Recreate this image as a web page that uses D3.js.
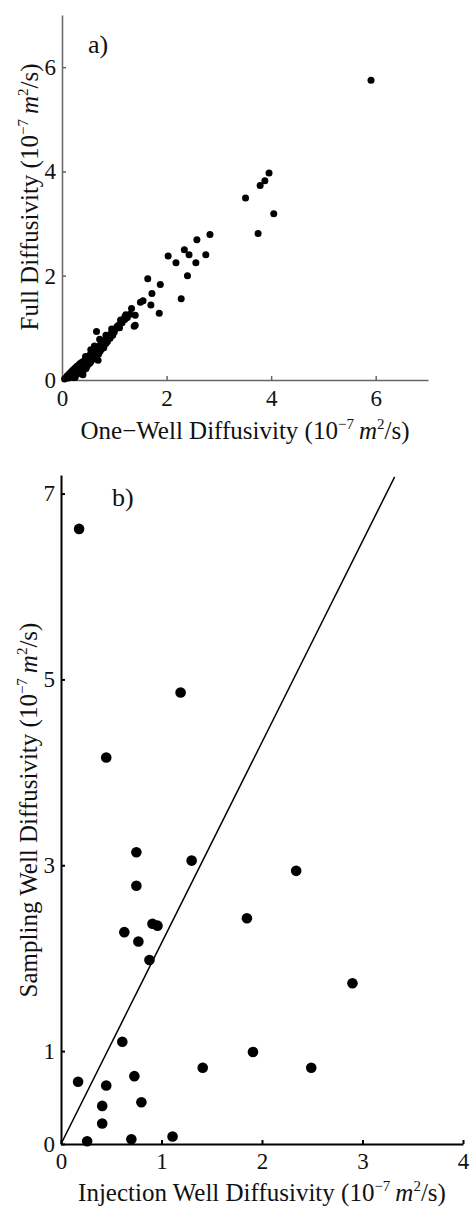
<!DOCTYPE html>
<html>
<head>
<meta charset="utf-8">
<script src="https://cdn.jsdelivr.net/npm/d3@7"></script>
<style>
  body { margin: 0; background: #fff; }
  text { font-family: "Liberation Serif", "Times New Roman", serif; fill: #111; }
</style>
</head>
<body>
<div id="chart"></div>
<script>
// panel a) one-well vs full diffusivity
let oneWell = [0.05,0.08,0.10,0.12,0.14,0.15,0.17,0.18,0.20,0.21,0.22,0.24,0.25,0.27,0.28,0.30,0.31,0.33,0.34,0.36,
  0.38,0.40,0.41,0.43,0.45,0.47,0.48,0.50,0.52,0.54,0.55,0.57,0.58,0.60,0.62,0.69,0.65,0.67,0.69,0.70,
  0.72,0.74,0.76,0.78,0.80,0.82,0.85,0.87,0.90,0.93,0.96,0.99,1.02,1.05,1.08,1.15,1.20,1.25,1.30,0.66,
  1.33,1.40,1.20,1.40,1.38,1.50,1.55,1.70,1.86,1.64,1.88,1.72,2.28,2.40,2.03,2.18,2.34,2.43,2.56,2.75,
  2.58,2.83,3.75,4.05,3.51,3.79,3.88,3.96,5.91,
  0.30,0.35,0.42,0.46,0.50,0.53,0.56,0.60,0.64,0.66,0.70,0.73,0.76,0.80,0.84,0.88,0.92,0.97,1.00,1.10,
  0.45,0.55,0.62,0.72,0.84,0.95,1.12,1.22,0.40,0.25];
let fullDiff = [0.02,0.05,0.08,0.04,0.12,0.07,0.15,0.10,0.18,0.05,0.13,0.22,0.17,0.10,0.26,0.20,0.28,0.14,0.31,0.25,
  0.34,0.30,0.18,0.38,0.33,0.42,0.27,0.45,0.40,0.49,0.35,0.52,0.46,0.55,0.50,0.38,0.60,0.55,0.63,0.58,
  0.66,0.62,0.70,0.72,0.68,0.76,0.80,0.74,0.84,0.88,0.90,0.95,0.98,1.02,1.05,1.10,1.16,1.20,1.26,0.93,
  1.37,1.24,1.21,1.05,1.03,1.49,1.52,1.44,1.28,1.94,1.83,1.66,1.56,2.00,2.38,2.25,2.50,2.40,2.25,2.40,
  2.69,2.79,2.81,3.19,3.49,3.73,3.82,3.97,5.75,
  0.12,0.20,0.25,0.22,0.30,0.32,0.42,0.40,0.45,0.52,0.50,0.55,0.60,0.62,0.70,0.78,0.80,0.86,0.92,1.00,
  0.45,0.58,0.65,0.78,0.86,0.98,1.15,1.25,0.10,0.05];
let ticksA = [0, 2, 4, 6];

// panel b) injection vs sampling well diffusivity
let injection = [0.18,1.19,0.45,0.75,1.30,2.34,0.75,1.85,0.91,0.96,0.63,0.77,0.88,2.90,0.61,1.91,1.41,2.49,
  0.17,0.73,0.45,0.41,0.80,0.41,0.26,0.70,1.11];
let sampling = [6.62,4.86,4.16,3.14,3.05,2.94,2.78,2.43,2.37,2.35,2.28,2.18,1.98,1.73,1.10,0.99,0.82,0.82,
  0.67,0.73,0.63,0.41,0.45,0.22,0.03,0.05,0.08];
let lineB = [[0, 0], [3.32, 7.18]];
let ticksBx = [0, 1, 2, 3, 4];
let ticksBy = [0, 1, 3, 5, 7];

let W = 470, H = 1209;
svg = d3.select("#chart").append("svg").attr("width", W).attr("height", H);

function unitLabel(sel, name) {
  sel.append("tspan").text(name + " (10");
  sel.append("tspan").text("\u22127").attr("font-size", "15px").attr("dy", -10);
  sel.append("tspan").text("m").attr("font-style", "italic").attr("dy", 10).attr("dx", 5);
  sel.append("tspan").text("2").attr("font-size", "15px").attr("dy", -10);
  sel.append("tspan").text("/s)").attr("dy", 10);
}

// ---- panel a ----
var xa = d3.scaleLinear().domain([0, 7]).range([62, 428]);
var ya = d3.scaleLinear().domain([0, 7]).range([380, 15]);

var ga = svg.append("g");
ga.append("g").attr("transform", "translate(0,380)")
  .call(d3.axisBottom(xa).tickValues(ticksA).tickFormat(d3.format("d")).tickSizeInner(-4).tickSizeOuter(0).tickPadding(10))
  .call(g => g.selectAll("text").attr("font-size", "23px"));
ga.append("g").attr("transform", "translate(62,0)")
  .call(d3.axisLeft(ya).tickValues(ticksA).tickFormat(d3.format("d")).tickSizeInner(-4).tickSizeOuter(0).tickPadding(6))
  .call(g => g.selectAll("text").attr("font-size", "23px"));
ga.selectAll(".domain, .tick line").attr("stroke", "#666").attr("stroke-width", 1.5);

ga.selectAll("circle").data(oneWell).enter().append("circle")
  .attr("cx", d => xa(d))
  .attr("cy", (d, i) => ya(fullDiff[i]))
  .attr("r", 3.5)
  .attr("fill", "#000");

ga.append("text").attr("x", 88).attr("y", 53).attr("font-size", "26px").text("a)");
ga.append("text").attr("x", 245).attr("y", 439).attr("font-size", "25px")
  .attr("text-anchor", "middle").call(unitLabel, "One\u2212Well Diffusivity");
ga.append("text").attr("transform", "translate(38,197) rotate(-90)").attr("font-size", "25px")
  .attr("text-anchor", "middle").call(unitLabel, "Full Diffusivity");

// ---- panel b ----
var xb = d3.scaleLinear().domain([0, 4]).range([61, 463]);
var yb = d3.scaleLinear().domain([0, 7.2]).range([1144, 475]);

var gb = svg.append("g");
gb.append("g").attr("transform", "translate(0,1144)")
  .call(d3.axisBottom(xb).tickValues(ticksBx).tickFormat(d3.format("d")).tickSizeInner(-4).tickSizeOuter(0).tickPadding(9))
  .call(g => g.selectAll("text").attr("font-size", "23px"));
gb.append("g").attr("transform", "translate(61,0)")
  .call(d3.axisLeft(yb).tickValues(ticksBy).tickFormat(d3.format("d")).tickSizeInner(-4).tickSizeOuter(0).tickPadding(6))
  .call(g => g.selectAll("text").attr("font-size", "23px"));
gb.selectAll(".domain, .tick line").attr("stroke", "#000").attr("stroke-width", 2);

gb.append("path").datum(lineB)
  .attr("d", d3.line().x(d => xb(d[0])).y(d => yb(d[1])))
  .attr("stroke", "#000").attr("stroke-width", 1.5).attr("fill", "none");

gb.selectAll("circle").data(injection).enter().append("circle")
  .attr("cx", d => xb(d))
  .attr("cy", (d, i) => yb(sampling[i]))
  .attr("r", 5.3)
  .attr("fill", "#000");

gb.append("text").attr("x", 112).attr("y", 506).attr("font-size", "26px").text("b)");
gb.append("text").attr("x", 262).attr("y", 1201).attr("font-size", "25px")
  .attr("text-anchor", "middle").call(unitLabel, "Injection Well Diffusivity");
gb.append("text").attr("transform", "translate(37,810) rotate(-90)").attr("font-size", "25px")
  .attr("text-anchor", "middle").call(unitLabel, "Sampling Well Diffusivity");
</script>
</body>
</html>
